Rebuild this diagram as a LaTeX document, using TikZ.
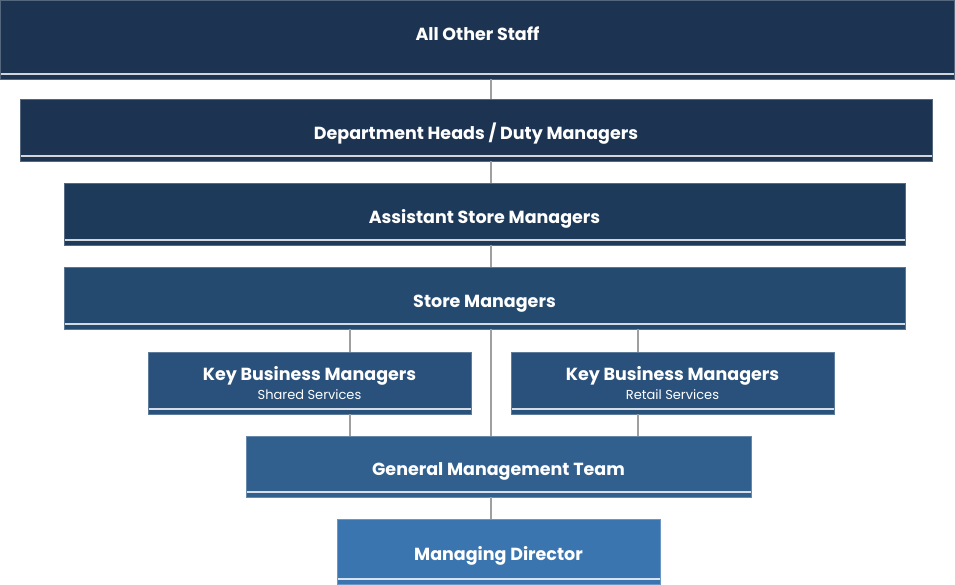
\documentclass[tikz,border=0pt]{standalone}
\usepackage{fontspec}
\setmainfont{Poppins}

\definecolor{tierA}{HTML}{1C3451}
\definecolor{tierB}{HTML}{1E3A5A}
\definecolor{tierC}{HTML}{244A70}
\definecolor{tierD}{HTML}{29517B}
\definecolor{tierE}{HTML}{31608F}
\definecolor{tierF}{HTML}{3B75B0}

\tikzset{
  tier/.style={draw=#1!75!white, fill=#1, text=white, inner sep=0pt,
    font=\fontsize{17.5}{18.5}\selectfont\bfseries, align=center,
    text height=18pt, text depth=0pt,
    path picture={\draw[white!80!#1, line width=1.2pt]
      ([yshift=5pt]path picture bounding box.south west) --
      ([yshift=5pt]path picture bounding box.south east);}},
  link/.style={draw=gray!75, line width=2.6pt}
}

\begin{document}
\begin{tikzpicture}[x=1pt,y=-1pt]
  \useasboundingbox (0,0) rectangle (955,584);

  % the levels, from the top down
  \node[tier=tierA, text height=8pt, text depth=7pt, minimum width=954, minimum height=79] (other) at (477.5,39.5) {All Other Staff};
  \node[tier=tierA, minimum width=912, minimum height=62] (dept)  at (476,130) {Department Heads / Duty Managers};
  \node[tier=tierB, minimum width=841, minimum height=62] (asm)   at (484.5,214) {Assistant Store Managers};
  \node[tier=tierC, minimum width=841, minimum height=62] (store) at (484.5,298) {Store Managers};
  \node[tier=tierD, text height=, text depth=, minimum width=323, minimum height=62] (shared) at (309.5,383)
    {Key Business Managers\\{\fontsize{13}{14}\selectfont\mdseries Shared Services}};
  \node[tier=tierD, text height=, text depth=, minimum width=323, minimum height=62] (retail) at (672.5,383)
    {Key Business Managers\\{\fontsize{13}{14}\selectfont\mdseries Retail Services}};
  \node[tier=tierE, minimum width=505, minimum height=61] (gmt) at (498.5,466.5) {General Management Team};
  \node[tier=tierF, minimum width=323, minimum height=65] (md)  at (498.5,551.5) {Managing Director};

  % where the lines drop
  \coordinate (spine) at (491,0);
  \coordinate (leftdrop) at (350,0);
  \coordinate (rightdrop) at (638,0);

  \draw[link] (other.south -| spine) -- (dept.north -| spine);
  \draw[link] (dept.south -| spine) -- (asm.north -| spine);
  \draw[link] (asm.south -| spine) -- (store.north -| spine);
  \draw[link] (store.south -| spine) -- (gmt.north -| spine);
  \draw[link] (store.south -| leftdrop) -- (shared.north -| leftdrop);
  \draw[link] (shared.south -| leftdrop) -- (gmt.north -| leftdrop);
  \draw[link] (store.south -| rightdrop) -- (retail.north -| rightdrop);
  \draw[link] (retail.south -| rightdrop) -- (gmt.north -| rightdrop);
  \draw[link] (gmt.south -| spine) -- (md.north -| spine);
\end{tikzpicture}
\end{document}
